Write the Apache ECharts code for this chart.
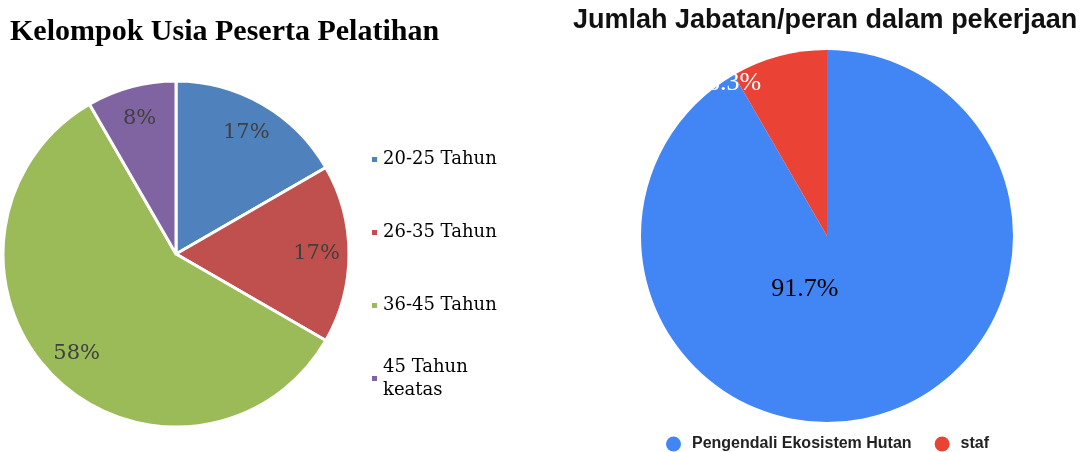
<!DOCTYPE html>
<html><head><meta charset="utf-8">
<script src="https://cdn.jsdelivr.net/npm/echarts@6/dist/echarts.min.js"></script>
<style>html,body{margin:0;padding:0;background:#fff}#c{width:1080px;height:452px}</style>
</head><body><div id="c"></div>
<script>
const ageCategories = ['20-25 Tahun', '26-35 Tahun', '36-45 Tahun', '45 Tahun keatas'];
const ageCounts = [2, 2, 7, 1];
const ageColors = ['#4F81BD', '#C0504D', '#9BBB59', '#8064A2'];
const roleCategories = ['Pengendali Ekosistem Hutan', 'staf'];
const roleCounts = [11, 1];
const roleColors = ['#4285F4', '#EA4335'];

const chart = echarts.init(document.getElementById('c'), null, {renderer: 'canvas'});
const ageData = ageCategories.map((n, i) => ({name: n, value: ageCounts[i], itemStyle: {color: ageColors[i]}}));
const roleLabelOffsets = [[-47, -40], [-68, -60]];
const roleLabelColors = ['#000', '#fff'];
const roleData = roleCategories.map((n, i) => ({
  name: n, value: roleCounts[i], itemStyle: {color: roleColors[i]},
  label: {offset: roleLabelOffsets[i], color: roleLabelColors[i]}
}));

chart.setOption({
  animation: false,
  title: [
    {text: 'Kelompok Usia Peserta Pelatihan', left: 10, top: 17, padding: 0,
     textStyle: {fontFamily: 'Liberation Serif', fontWeight: 'bold', fontSize: 30, color: '#000'}},
    {text: 'Jumlah Jabatan/peran dalam pekerjaan', left: 573, top: 7, padding: 0,
     textStyle: {fontFamily: 'Liberation Sans', fontWeight: 'bold', fontSize: 27, color: '#111'}}
  ],
  legend: [
    {orient: 'vertical', left: 370, top: 148, padding: 0, itemWidth: 7, itemHeight: 7, icon: 'rect', itemGap: 50,
     data: ageCategories.slice(0, 3), selectedMode: false,
     textStyle: {fontFamily: 'DejaVu Serif', fontSize: 18, color: '#000', lineHeight: 23}},
    {orient: 'vertical', left: 370, top: 344, padding: 0, itemWidth: 7, itemHeight: 7, icon: 'rect',
     data: ageCategories.slice(3), selectedMode: false,
     formatter: n => n.replace(' keatas', '\nkeatas'),
     textStyle: {fontFamily: 'DejaVu Serif', fontSize: 18, color: '#000', lineHeight: 23, padding: [23, 0, 0, 0]}},
    {orient: 'horizontal', left: 666, top: 436, padding: 0, itemWidth: 15, itemHeight: 15, icon: 'circle', itemGap: 23,
     data: roleCategories, selectedMode: false,
     textStyle: {fontFamily: 'Liberation Sans', fontWeight: 'bold', fontSize: 16, color: '#222', padding: [0, 0, 0, 6]}}
  ],
  series: [
    {type: 'pie', center: [176, 254], radius: 173, startAngle: 90, clockwise: true,
     data: ageData, label: {show: false}, labelLine: {show: false},
     itemStyle: {borderColor: '#fff', borderWidth: 3}, emphasis: {disabled: true}},
    {type: 'pie', center: [176, 254], radius: [102, 173], startAngle: 90, clockwise: true,
     data: ageCategories.map((n, i) => ({name: n, value: ageCounts[i]})), silent: true, legendHoverLink: false,
     itemStyle: {color: 'rgba(0,0,0,0)'}, labelLine: {show: false}, emphasis: {disabled: true},
     label: {show: true, position: 'inside', formatter: '{d}%', fontFamily: 'DejaVu Serif', fontSize: 21, color: '#404040'},
     percentPrecision: 0},
    {type: 'pie', center: [827, 236], radius: 186, startAngle: 90, clockwise: true,
     data: roleData, labelLine: {show: false}, emphasis: {disabled: true}, percentPrecision: 1,
     label: {show: true, position: 'inside', formatter: '{d}%', fontFamily: 'Liberation Serif', fontSize: 26}}
  ]
});
</script></body></html>
